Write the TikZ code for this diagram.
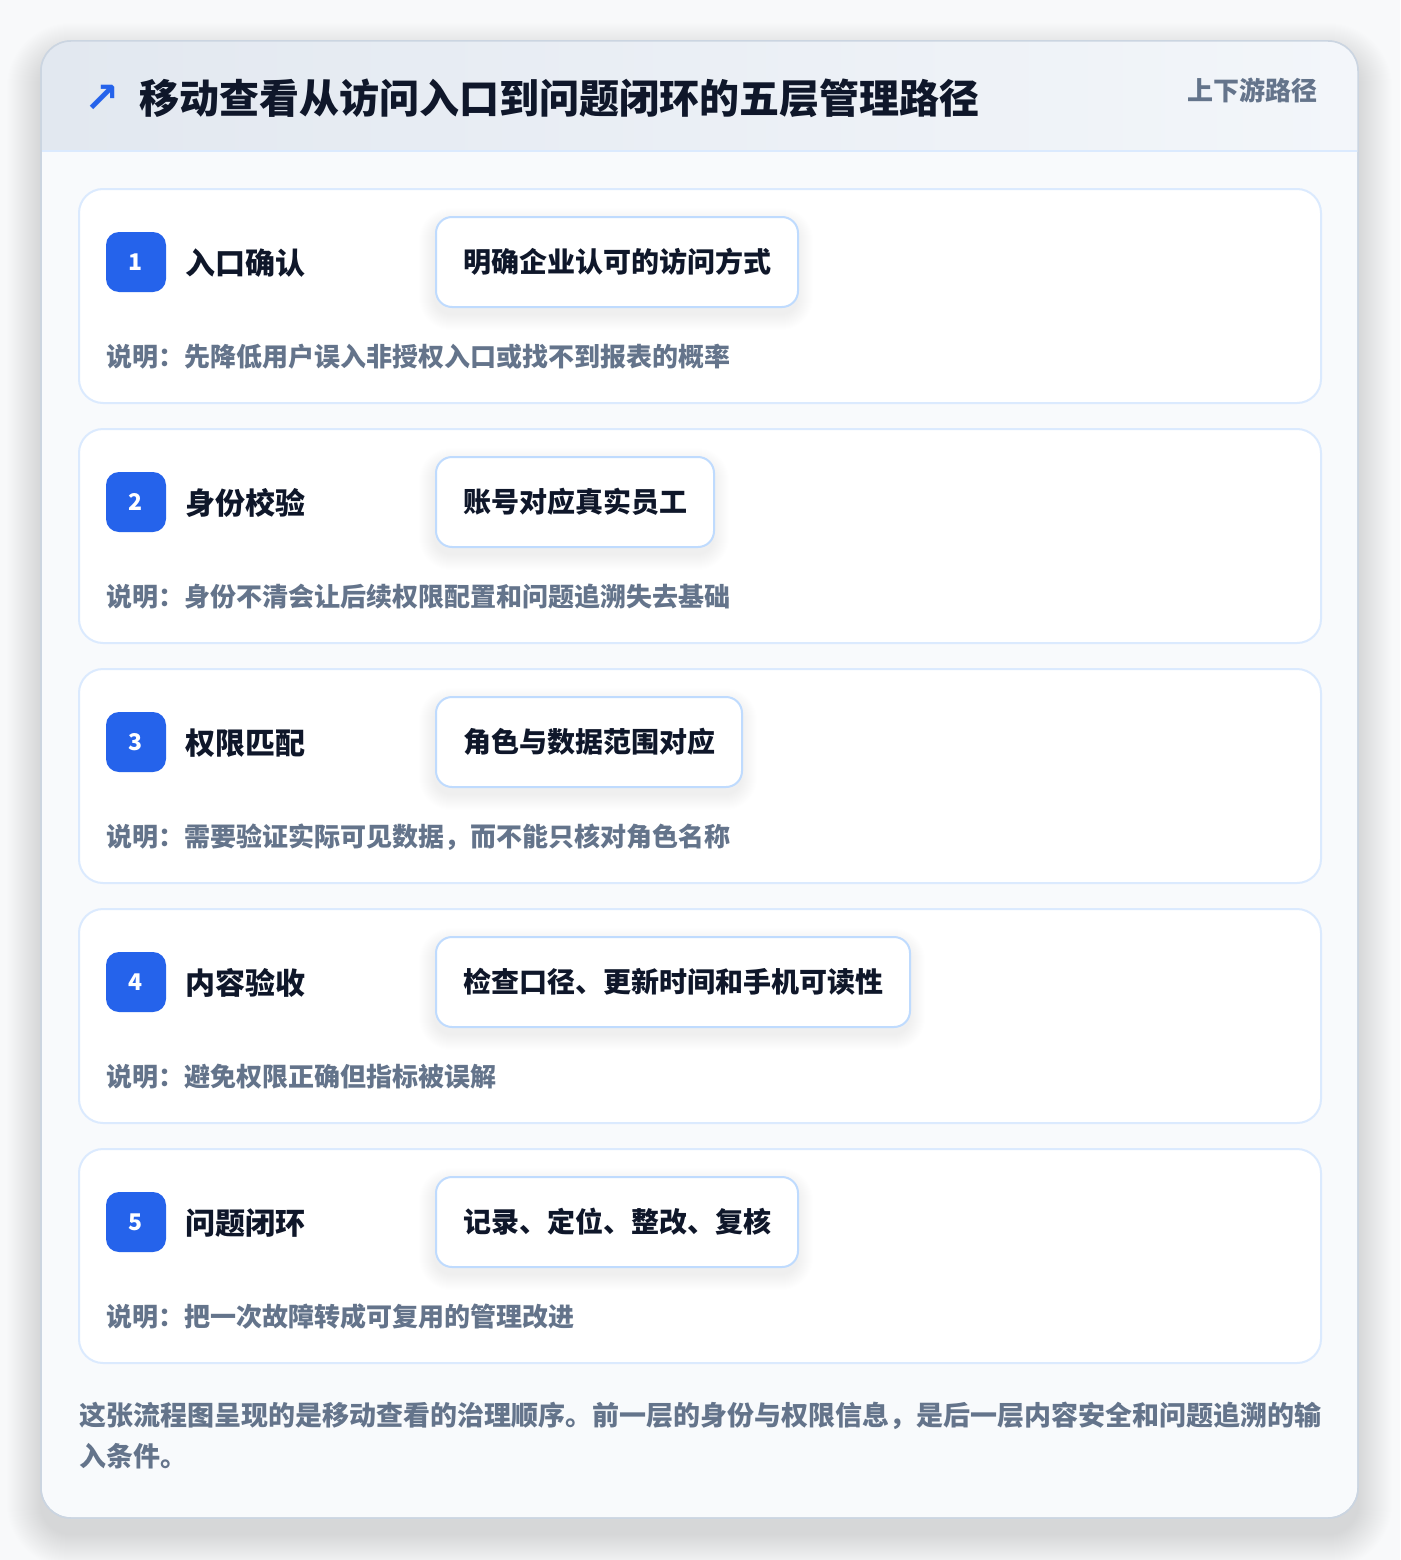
\documentclass[tikz,border=0pt]{standalone}
\usepackage{fontspec}
\setmainfont{Noto Sans CJK SC}
\newfontfamily\symfont{DejaVu Sans}
\definecolor{pagebg}{HTML}{F8F9FA}
\definecolor{cardborder}{HTML}{CBD5E1}
\definecolor{bodybg}{HTML}{F8FAFC}
\definecolor{headl}{HTML}{E2E8F0}
\definecolor{headr}{HTML}{F3F6FA}
\definecolor{lineblue}{HTML}{DBEAFE}
\definecolor{pillblue}{HTML}{BFDBFE}
\definecolor{accent}{HTML}{2563EB}
\definecolor{ink}{HTML}{0F172A}
\definecolor{muted}{HTML}{64748B}
\definecolor{shadowc}{HTML}{1E293B}
% soft shadow: corners (x1,y1) (x2,y2), radius, y offset, steps, opacity per step
\newcommand{\mysoftshadow}[8]{%
  \foreach \s in {1,...,#7}{%
    \fill[shadowc, opacity=#8, rounded corners={#5pt+\s pt}]
      (#1-\s, #2-\s+#6) rectangle (#3+\s, #4+\s+#6);
  }%
}
\tikzset{
  outercard/.style={draw=cardborder, line width=1.5pt, fill=bodybg, rounded corners=30pt,
    minimum width=1317pt, minimum height=1477pt, inner sep=0pt},
  stepcard/.style={draw=lineblue, line width=2pt, fill=white, rounded corners=24pt,
    minimum width=1242pt, minimum height=214pt, inner sep=0pt},
  badge/.style={fill=accent, rounded corners=13pt, minimum size=60pt, inner sep=0pt,
    text=white, font=\fontsize{23pt}{26pt}\selectfont\bfseries},
  steptitle/.style={anchor=west, inner sep=0pt, text=ink, font=\fontsize{30pt}{36pt}\selectfont\bfseries},
  pill/.style={anchor=west, draw=pillblue, line width=2pt, fill=white, rounded corners=16pt,
    minimum height=90pt, inner xsep=27pt, inner ysep=0pt, text=ink,
    font=\fontsize{28pt}{34pt}\selectfont\bfseries},
  desc/.style={anchor=west, inner sep=0pt, text=muted, font=\fontsize{26pt}{32pt}\selectfont\bfseries},
}
\begin{document}
\begin{tikzpicture}[x=1pt, y=-1pt]
\useasboundingbox (0,0) rectangle (1400,1560);
\fill[pagebg] (0,0) rectangle (1400,1560);
\mysoftshadow{41}{41}{1358}{1518}{30}{16}{34}{0.003}
\node[outercard] (card) at (699.5,779.5) {};
\begin{scope}
  \clip[rounded corners=30pt] (41,41) rectangle (1358,1518);
  \shade[left color=headl, right color=headr] (41,41) rectangle (1358,151);
\end{scope}
\draw[lineblue, line width=2pt] (42,151) -- (1357,151);
\draw[cardborder, line width=1.5pt, rounded corners=30pt] (41,41) rectangle (1358,1518);
\node[anchor=center, inner sep=0pt, text=accent, font=\fontsize{42pt}{46pt}\selectfont\symfont\bfseries] (icon) at (102,99) {↗};
\node[anchor=west, inner sep=0pt, text=ink, font=\fontsize{40pt}{48pt}\selectfont\bfseries] (title) at (139,98) {移动查看从访问入口到问题闭环的五层管理路径};
\node[anchor=east, inner sep=0pt, text=muted, font=\fontsize{26pt}{32pt}\selectfont\bfseries] (tag) at (1318,90) {上下游路径};

\foreach \i/\t/\p/\d/\w [count=\k from 0] in {
  1/入口确认/明确企业认可的访问方式/说明：先降低用户误入非授权入口或找不到报表的概率/362,
  2/身份校验/账号对应真实员工/说明：身份不清会让后续权限配置和问题追溯失去基础/278,
  3/权限匹配/角色与数据范围对应/说明：需要验证实际可见数据，而不能只核对角色名称/306,
  4/内容验收/检查口径、更新时间和手机可读性/说明：避免权限正确但指标被误解/474,
  5/问题闭环/记录、定位、整改、复核/说明：把一次故障转成可复用的管理改进/362}{
  \pgfmathsetmacro{\yy}{189+240*\k}
  \node[stepcard] (c\i) at (700,\yy+107) {};
  \mysoftshadow{435}{\yy+28}{435+\w}{\yy+118}{16}{7}{16}{0.0035}
  \node[badge] (b\i) at (136,\yy+73) {\i};
  \node[steptitle] (t\i) at (185,\yy+74) {\t};
  \node[pill] (p\i) at (435,\yy+73) {\p};
  \node[desc] (d\i) at (106,\yy+168) {\d};
}

\node[anchor=north west, inner sep=0pt, text=muted, align=left,
  font=\fontsize{27pt}{41pt}\selectfont\bfseries] (foot) at (79,1402)
  {这张流程图呈现的是移动查看的治理顺序。前一层的身份与权限信息，是后一层内容安全和问题追溯的输\\入条件。};
\end{tikzpicture}
\end{document}
